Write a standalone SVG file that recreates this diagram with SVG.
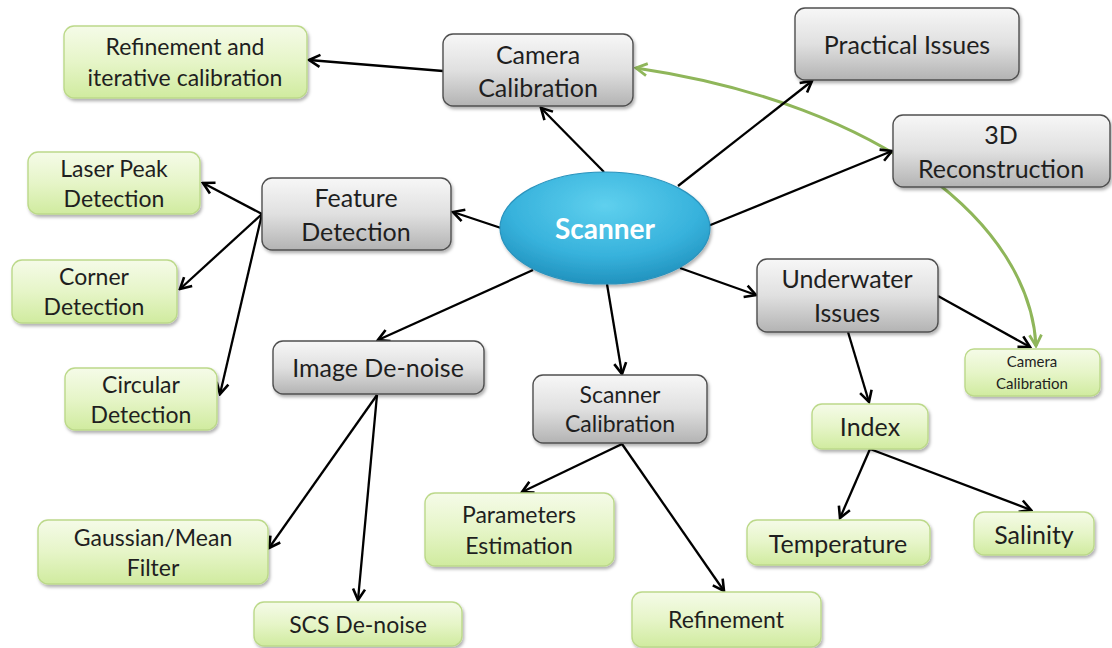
<svg xmlns="http://www.w3.org/2000/svg" width="1112" height="648" viewBox="0 0 1112 648">
  <defs>
    <linearGradient id="grayFill" x1="0" y1="0" x2="0" y2="1">
      <stop offset="0" stop-color="#f7f7f7"/>
      <stop offset="0.5" stop-color="#e0e0e0"/>
      <stop offset="1" stop-color="#b3b3b3"/>
    </linearGradient>
    <linearGradient id="greenFill" x1="0" y1="0" x2="0" y2="1">
      <stop offset="0" stop-color="#f5fbe8"/>
      <stop offset="0.5" stop-color="#e6f5c8"/>
      <stop offset="1" stop-color="#d0eb9f"/>
    </linearGradient>
    <radialGradient id="hubFill" cx="0.5" cy="0.3" r="0.75">
      <stop offset="0" stop-color="#5fd0ee"/>
      <stop offset="0.6" stop-color="#37b2dc"/>
      <stop offset="1" stop-color="#1d8cb8"/>
    </radialGradient>
    <filter id="shadow" x="-10%" y="-10%" width="125%" height="135%">
      <feDropShadow dx="1.5" dy="2.5" stdDeviation="1.8" flood-color="#000" flood-opacity="0.3"/>
    </filter>
    <marker id="arrow" viewBox="-13 -8 15 16" markerWidth="15" markerHeight="16" refX="0" refY="0" orient="auto" markerUnits="userSpaceOnUse">
      <path d="M -11 -6 L 0 0 L -11 6" fill="none" stroke="#000" stroke-width="2.6" stroke-linejoin="miter"/>
    </marker>
    <marker id="arrowGreen" viewBox="-13 -8 15 16" markerWidth="15" markerHeight="16" refX="0" refY="0" orient="auto-start-reverse" markerUnits="userSpaceOnUse">
      <path d="M -11 -6 L 0 0 L -11 6" fill="none" stroke="#8fb65a" stroke-width="2.8"/>
    </marker>
    <style>
      .gray { fill: url(#grayFill); stroke: #4f4f4f; stroke-width: 1.4; filter: url(#shadow); }
      .green { fill: url(#greenFill); stroke: #bcd98a; stroke-width: 1.4; filter: url(#shadow); }
      .t { font-family: Lato, "Open Sans", "Liberation Sans", sans-serif; fill: #1f1f1f; text-anchor: middle; dominant-baseline: central; }
      .big { font-size: 25px; }
      .mid { font-size: 23px; }
      .sm { font-size: 15px; }
      .edge { stroke: #000; stroke-width: 2.3; fill: none; marker-end: url(#arrow); }
      .link { stroke: #8fb65a; stroke-width: 3; fill: none; marker-start: url(#arrowGreen); marker-end: url(#arrowGreen); }
    </style>
  </defs>
  <rect width="1112" height="648" fill="#ffffff"/>

  <g id="connectors">
    <path class="link" d="M 1036 346 C 1030 225, 885 105, 636 68"/>
    <line class="edge" x1="604" y1="172" x2="541" y2="108"/>
    <line class="edge" x1="678" y1="186" x2="812" y2="81"/>
    <line class="edge" x1="708" y1="226" x2="892" y2="151"/>
    <line class="edge" x1="501" y1="228" x2="453" y2="212"/>
    <line class="edge" x1="533" y1="270" x2="378" y2="340"/>
    <line class="edge" x1="607" y1="284" x2="622" y2="374"/>
    <line class="edge" x1="680" y1="268" x2="756" y2="295"/>
    <line class="edge" x1="443" y1="71" x2="309" y2="60"/>
    <line class="edge" x1="262" y1="214" x2="203" y2="183"/>
    <line class="edge" x1="262" y1="214" x2="180" y2="289"/>
    <line class="edge" x1="262" y1="214" x2="220" y2="394"/>
    <line class="edge" x1="377" y1="395" x2="269" y2="548"/>
    <line class="edge" x1="377" y1="395" x2="358" y2="600"/>
    <line class="edge" x1="622" y1="444" x2="522" y2="492"/>
    <line class="edge" x1="622" y1="444" x2="724" y2="591"/>
    <line class="edge" x1="848" y1="332" x2="869" y2="402"/>
    <line class="edge" x1="938" y1="296" x2="1030" y2="347"/>
    <line class="edge" x1="870" y1="449" x2="840" y2="518"/>
    <line class="edge" x1="870" y1="449" x2="1031" y2="510"/>
  </g>

  <g id="scanner">
    <ellipse cx="605" cy="228" rx="105" ry="56" fill="url(#hubFill)" stroke="#2a93bd" stroke-width="1.2" filter="url(#shadow)"/>
    <text x="605" y="228" font-family="Lato, 'Open Sans', 'Liberation Sans', sans-serif" font-size="28" font-weight="bold" fill="#ffffff" text-anchor="middle" dominant-baseline="central">Scanner</text>
  </g>

  <g id="camera-calibration">
    <rect class="gray" x="443" y="34" width="190" height="72" rx="10"/>
    <text class="t big" x="538" y="54">Camera</text>
    <text class="t big" x="538" y="87">Calibration</text>
  </g>
  <g id="practical-issues">
    <rect class="gray" x="795" y="8" width="224" height="72" rx="10"/>
    <text class="t big" x="907" y="44">Practical Issues</text>
  </g>
  <g id="reconstruction-3d">
    <rect class="gray" x="893" y="115" width="217" height="72" rx="10"/>
    <text class="t big" x="1001" y="134">3D</text>
    <text class="t big" x="1001" y="168">Reconstruction</text>
  </g>
  <g id="feature-detection">
    <rect class="gray" x="262" y="178" width="189" height="72" rx="10"/>
    <text class="t big" x="356" y="197">Feature</text>
    <text class="t big" x="356" y="231">Detection</text>
  </g>
  <g id="underwater-issues">
    <rect class="gray" x="757" y="259" width="181" height="73" rx="10"/>
    <text class="t big" x="847" y="278">Underwater</text>
    <text class="t big" x="847" y="312">Issues</text>
  </g>
  <g id="image-denoise">
    <rect class="gray" x="273" y="341" width="211" height="53" rx="10"/>
    <text class="t big" x="378" y="367">Image De-noise</text>
  </g>
  <g id="scanner-calibration">
    <rect class="gray" x="533" y="375" width="174" height="68" rx="10"/>
    <text class="t mid" x="620" y="394">Scanner</text>
    <text class="t mid" x="620" y="423">Calibration</text>
  </g>

  <g id="refinement-iterative">
    <rect class="green" x="64" y="26" width="243" height="72" rx="10"/>
    <text class="t mid" x="185" y="46">Refinement and</text>
    <text class="t mid" x="185" y="77">iterative calibration</text>
  </g>
  <g id="laser-peak">
    <rect class="green" x="28" y="152" width="172" height="62" rx="10"/>
    <text class="t mid" x="114" y="168">Laser Peak</text>
    <text class="t mid" x="114" y="198">Detection</text>
  </g>
  <g id="corner-detection">
    <rect class="green" x="12" y="260" width="165" height="63" rx="10"/>
    <text class="t mid" x="94" y="276">Corner</text>
    <text class="t mid" x="94" y="306">Detection</text>
  </g>
  <g id="circular-detection">
    <rect class="green" x="65" y="368" width="152" height="62" rx="10"/>
    <text class="t mid" x="141" y="384">Circular</text>
    <text class="t mid" x="141" y="414">Detection</text>
  </g>
  <g id="gaussian-mean">
    <rect class="green" x="38" y="520" width="230" height="64" rx="10"/>
    <text class="t mid" x="153" y="537">Gaussian/Mean</text>
    <text class="t mid" x="153" y="567">Filter</text>
  </g>
  <g id="scs-denoise">
    <rect class="green" x="254" y="602" width="208" height="44" rx="10"/>
    <text class="t mid" x="358" y="624">SCS De-noise</text>
  </g>
  <g id="parameters-estimation">
    <rect class="green" x="425" y="493" width="189" height="73" rx="10"/>
    <text class="t mid" x="519" y="514">Parameters</text>
    <text class="t mid" x="519" y="545">Estimation</text>
  </g>
  <g id="refinement">
    <rect class="green" x="632" y="592" width="189" height="55" rx="10"/>
    <text class="t mid" x="726" y="619">Refinement</text>
  </g>
  <g id="index">
    <rect class="green" x="812" y="404" width="116" height="45" rx="10"/>
    <text class="t big" x="870" y="426">Index</text>
  </g>
  <g id="temperature">
    <rect class="green" x="747" y="520" width="183" height="45" rx="10"/>
    <text class="t big" x="838" y="543">Temperature</text>
  </g>
  <g id="salinity">
    <rect class="green" x="974" y="512" width="120" height="43" rx="10"/>
    <text class="t big" x="1034" y="534">Salinity</text>
  </g>
  <g id="camera-calibration-small">
    <rect class="green" x="965" y="349" width="135" height="47" rx="9"/>
    <text class="t sm" x="1032" y="361">Camera</text>
    <text class="t sm" x="1032" y="383">Calibration</text>
  </g>
</svg>
